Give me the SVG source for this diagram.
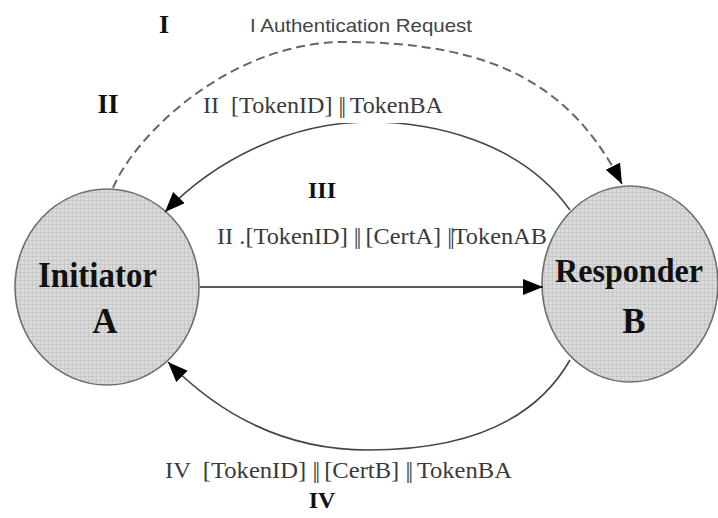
<svg xmlns="http://www.w3.org/2000/svg" width="718" height="518" viewBox="0 0 718 518">
<defs>
<pattern id="grid" width="4" height="4" patternUnits="userSpaceOnUse">
<rect width="4" height="4" fill="#dadada"/>
<path d="M0 0.5H4M0.5 0V4" stroke="#c2c2c2" stroke-width="0.7"/>
</pattern>
<marker id="arr" markerUnits="userSpaceOnUse" markerWidth="22" markerHeight="18" refX="20" refY="8" orient="auto">
<path d="M0 0 L20 8 L0 16 Z" fill="#000"/>
</marker>
</defs>
<style>
.node{fill:url(#grid);stroke:#6e6e6e;stroke-width:1.6}
.nm{font-family:"Liberation Serif","Times New Roman",serif;font-weight:bold;fill:#111}
.num{font-family:"Liberation Serif","Times New Roman",serif;font-weight:bold;fill:#111}
.lbl{font-family:"Liberation Serif","Times New Roman",serif;fill:#3a3a3a}
.slbl{font-family:"Liberation Sans",Arial,sans-serif;fill:#444}
.bar{letter-spacing:-2px}
.arc{fill:none;stroke:#444;stroke-width:1.6}
.dash{fill:none;stroke:#666;stroke-width:2;stroke-dasharray:9 5}
.line{fill:none;stroke:#222;stroke-width:1.5}
</style>
<rect width="718" height="518" fill="#fff"/>

<g id="node-A">
<ellipse class="node" cx="107" cy="287" rx="92" ry="98"/>
<text class="nm" x="38" y="287" font-size="35" textLength="119" lengthAdjust="spacingAndGlyphs">Initiator</text>
<text class="nm" x="105" y="333" font-size="35" text-anchor="middle">A</text>
</g>
<g id="node-B">
<ellipse class="node" cx="630" cy="284" rx="88" ry="98"/>
<text class="nm" x="555" y="282" font-size="33" textLength="148" lengthAdjust="spacingAndGlyphs">Responder</text>
<text class="nm" x="634" y="333" font-size="35" text-anchor="middle">B</text>
</g>

<g id="connectors">
<path id="c1" class="dash" d="M113 188 C135 135 230 42 345 42 C495 42 572 86 622 184" marker-end="url(#arr)"/>
<path id="c2" class="arc" d="M570 210 C520 140 430 122 370 122 C290 122 215 160 165 212" marker-end="url(#arr)"/>
<path id="c3" class="line" d="M200 287 H543" marker-end="url(#arr)"/>
<path id="c4" class="arc" d="M570 360 C530 430 450 450 368 450 C280 450 215 410 168 362" marker-end="url(#arr)"/>
</g>

<g id="labels">
<text class="num" x="164" y="33" font-size="26" text-anchor="middle">I</text>
<text class="slbl" x="250" y="32" font-size="19" textLength="222" lengthAdjust="spacingAndGlyphs">I Authentication Request</text>
<text class="num" x="108" y="113" font-size="27" text-anchor="middle">II</text>
<rect x="300" y="92" width="130" height="31" fill="#fff"/>
<text class="lbl" x="203" y="113" font-size="24" textLength="240" lengthAdjust="spacingAndGlyphs" xml:space="preserve">II  [TokenID] <tspan class="bar">||</tspan> TokenBA</text>
<text class="num" x="322" y="198" font-size="24" text-anchor="middle">III</text>
<text class="lbl" x="217" y="244" font-size="23" textLength="330" lengthAdjust="spacingAndGlyphs" xml:space="preserve">II .[TokenID] <tspan class="bar">||</tspan> [CertA] <tspan class="bar">||</tspan>TokenAB</text>
<text class="lbl" x="165" y="478" font-size="23" textLength="347" lengthAdjust="spacingAndGlyphs" xml:space="preserve">IV  [TokenID] <tspan class="bar">||</tspan> [CertB] <tspan class="bar">||</tspan> TokenBA</text>
<text class="num" x="322" y="508" font-size="24" text-anchor="middle">IV</text>
</g>
</svg>
